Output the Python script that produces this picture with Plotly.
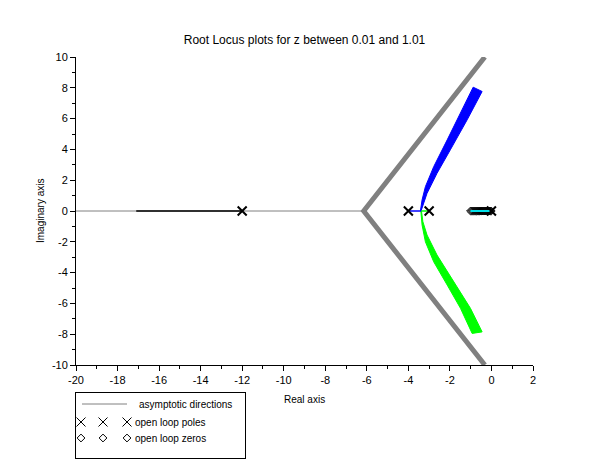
import plotly.graph_objects as go

# open loop singularities
pole_re = [-12, -4, -3, 0]
zero_re = [-1.01, -0.96, -0.91, -0.86, -0.81, -0.76, -0.71, -0.66, -0.61, -0.56, -0.51,
           -0.46, -0.41, -0.36, -0.31, -0.26, -0.21, -0.16, -0.11, -0.06, -0.01]

# asymptotes
asym_axis_x = [-20, -6.15]
asym_axis_y = [0, 0]
asym_v_x = [-0.32, -6.15, -0.32]
asym_v_y = [10, 0, -10]

# locus branch from -12 going left
black_x = [-17.1, -12]
black_y = [0, 0]

# branch from -4 (blue): real-axis part then band going up
blue_axis_x = [-4, -3.38]
blue_axis_y = [0, 0]
blue_outer_x = [-3.42, -3.34, -3.18, -2.78, -2.13, -1.49, -0.88]
blue_outer_y = [0, 0.72, 1.58, 2.88, 4.62, 6.35, 8.04]
blue_inner_x = [-0.45, -1.17, -1.98, -2.62, -3.10, -3.34, -3.39]
blue_inner_y = [7.76, 5.92, 3.97, 2.45, 1.15, 0.28, 0]

# branch from -3 (green): real-axis part then band going down
green_axis_x = [-3, -3.38]
green_axis_y = [0, 0]
green_outer_x = [-3.40, -3.34, -3.18, -2.78, -2.13, -1.49, -0.93]
green_outer_y = [0, -0.91, -2.0, -3.30, -4.81, -6.32, -7.95]
green_inner_x = [-0.45, -1.01, -1.82, -2.62, -3.10, -3.30, -3.37]
green_inner_y = [-7.85, -6.32, -4.60, -2.86, -1.56, -0.70, 0]

# branch from 0 to the zero (cyan)
cyan_x = [-1.01, 0]
cyan_y = [0, 0]

# tick labels (plain hyphen minus, as in the original)
x_ticks = [-20, -18, -16, -14, -12, -10, -8, -6, -4, -2, 0, 2]
y_ticks = [-10, -8, -6, -4, -2, 0, 2, 4, 6, 8, 10]

W, H = 610, 460
PLOT_L, PLOT_R, PLOT_T, PLOT_B = 76, 533, 57, 365
LEG_L, LEG_R, LEG_T, LEG_B = 76, 245, 393, 458
FONT = 'Liberation Sans, Arial, sans-serif'

fig = go.Figure()

fig.add_trace(go.Scatter(x=asym_axis_x, y=asym_axis_y, mode='lines',
                         line=dict(color='#808080', width=1)))
fig.add_trace(go.Scatter(x=asym_v_x, y=asym_v_y, mode='lines',
                         line=dict(color='#808080', width=5)))
fig.add_trace(go.Scatter(x=black_x, y=black_y, mode='lines',
                         line=dict(color='black', width=1.5)))

fig.add_trace(go.Scatter(x=blue_outer_x + blue_inner_x, y=blue_outer_y + blue_inner_y,
                         mode='lines', fill='toself', fillcolor='#0000ff',
                         line=dict(color='#0000ff', width=1)))
fig.add_trace(go.Scatter(x=green_outer_x + green_inner_x, y=green_outer_y + green_inner_y,
                         mode='lines', fill='toself', fillcolor='#00ff00',
                         line=dict(color='#00ff00', width=1)))
fig.add_trace(go.Scatter(x=blue_axis_x, y=blue_axis_y, mode='lines',
                         line=dict(color='#0000ff', width=1.5)))
fig.add_trace(go.Scatter(x=green_axis_x, y=green_axis_y, mode='lines',
                         line=dict(color='#00ff00', width=1.5)))

fig.add_trace(go.Scatter(x=zero_re, y=[0] * len(zero_re), mode='markers',
                         marker=dict(symbol='diamond-open', size=6, color='black',
                                     line=dict(width=1, color='black'))))
fig.add_trace(go.Scatter(x=cyan_x, y=cyan_y, mode='lines',
                         line=dict(color='#00e0e8', width=2)))
fig.add_trace(go.Scatter(x=pole_re, y=[0] * len(pole_re), mode='markers',
                         marker=dict(symbol='x-thin', size=9, color='black',
                                     line=dict(width=2, color='black'))))

# hand-made legend in its own little axis (pixel coordinates)
fig.add_trace(go.Scatter(x=[82, 127], y=[404, 404], mode='lines', xaxis='x2', yaxis='y2',
                         line=dict(color='#808080', width=1)))
fig.add_trace(go.Scatter(x=[81, 103, 127], y=[422, 422, 422], mode='markers', xaxis='x2', yaxis='y2',
                         marker=dict(symbol='x-thin', size=9, color='black',
                                     line=dict(width=1, color='black'))))
fig.add_trace(go.Scatter(x=[81, 103, 127], y=[438, 438, 438], mode='markers', xaxis='x2', yaxis='y2',
                         marker=dict(symbol='diamond-open', size=6, color='black',
                                     line=dict(width=1, color='black'))))

legend_texts = [('asymptotic directions', 137, 404), ('open loop poles', 133, 422),
                ('open loop zeros', 133, 438)]
annotations = [dict(text=t, x=x, y=y, xref='x2', yref='y2', xanchor='left', yanchor='middle',
                    showarrow=False, font=dict(size=10, color='black', family=FONT))
               for t, x, y in legend_texts]
annotations += [
    dict(text='Real axis', x=(PLOT_L + PLOT_R) / 2 / W, y=1 - 399 / H, xref='paper', yref='paper',
         xanchor='center', yanchor='middle',
         showarrow=False, font=dict(size=10, color='black', family=FONT)),
    dict(text='Imaginary axis', x=40 / W, y=1 - 211 / H, xref='paper', yref='paper', textangle=-90,
         xanchor='center', yanchor='middle',
         showarrow=False, font=dict(size=10, color='black', family=FONT)),
]

axis_common = dict(showgrid=False, zeroline=False, showline=True, linecolor='black', linewidth=1,
                   ticks='outside', ticklen=5, tickcolor='black', automargin=False,
                   tickfont=dict(size=11, color='black', family=FONT),
                   minor=dict(dtick=1, ticks='outside', ticklen=3, tickcolor='black'))
legend_axis = dict(showgrid=False, zeroline=False, showticklabels=False, ticks='', automargin=False,
                   showline=True, mirror=True, linecolor='black', linewidth=1)

fig.update_layout(
    width=W, height=H, showlegend=False,
    paper_bgcolor='white', plot_bgcolor='white',
    margin=dict(l=0, r=0, t=0, b=0, pad=0),
    title=dict(text='Root Locus plots for z between 0.01 and 1.01', x=(PLOT_L + PLOT_R) / 2 / W,
               y=1 - 40 / H, xanchor='center', yanchor='middle', automargin=False,
               font=dict(size=12, color='black', family=FONT)),
    xaxis=dict(domain=[PLOT_L / W, PLOT_R / W], range=[-20, 2],
               tickvals=x_ticks, ticktext=[str(v) for v in x_ticks], **axis_common),
    yaxis=dict(domain=[1 - PLOT_B / H, 1 - PLOT_T / H], range=[-10, 10],
               tickvals=y_ticks, ticktext=[str(v) for v in y_ticks], **axis_common),
    xaxis2=dict(domain=[LEG_L / W, LEG_R / W], range=[LEG_L, LEG_R], anchor='y2', **legend_axis),
    yaxis2=dict(domain=[1 - LEG_B / H, 1 - LEG_T / H], range=[LEG_B, LEG_T], anchor='x2', **legend_axis),
    annotations=annotations,
)

# the page body has a default margin; drop it so the figure sits at the window corner
fig.write_html("out.html", config={'displayModeBar': False},
               post_script="document.body.style.margin='0';document.body.style.overflow='hidden';")
